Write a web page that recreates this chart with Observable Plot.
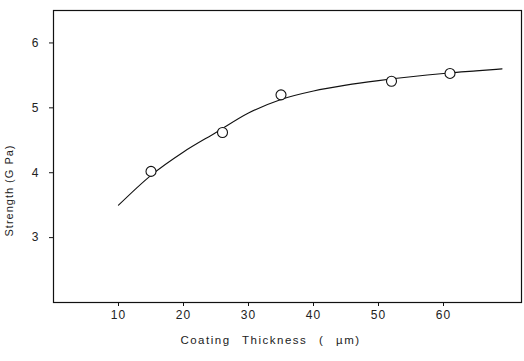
<!DOCTYPE html>
<html>
<head>
<meta charset="utf-8">
<script src="https://cdn.jsdelivr.net/npm/d3@7"></script>
<script src="https://cdn.jsdelivr.net/npm/@observablehq/plot@0.6"></script>
<style>
  html, body { margin: 0; padding: 0; background: #fff; }
  svg { display: block; }
  .strength-chart text { letter-spacing: 1px; }
  .strength-chart .x-title text { letter-spacing: 1.5px; word-spacing: 7px; }
</style>
</head>
<body>
<div id="chart"></div>
<script>
// Measured strength at each coating thickness (µm, GPa)
const thickness = [15, 26, 35, 52, 61];
const strength = [4.02, 4.62, 5.2, 5.41, 5.53];

// Fitted trend curve through the measurements
const curveX = [10, 15, 20, 25, 30, 35, 40, 45, 50, 55, 60, 65, 69];
const curveY = [3.5, 3.96, 4.32, 4.62, 4.92, 5.13, 5.26, 5.35, 5.42, 5.48, 5.53, 5.57, 5.6];

const xTicks = [10, 20, 30, 40, 50, 60];
const yTicks = [3, 4, 5, 6];

const points = thickness.map((t, i) => ({t, s: strength[i]}));
const curve = curveX.map((t, i) => ({t, s: curveY[i]}));

const font = "Liberation Sans, DejaVu Sans, sans-serif";

const chart = Plot.plot({
  width: 524,
  height: 361,
  marginLeft: 53,
  marginRight: 3,
  marginTop: 10,
  marginBottom: 59,
  className: "strength-chart",
  style: {fontFamily: font, fontSize: "12px", color: "#222", background: "#fff"},
  x: {domain: [0, 72]},
  y: {domain: [2, 6.5]},
  marks: [
    Plot.frame({stroke: "#111", strokeWidth: 1.2}),
    Plot.axisX({ticks: xTicks, tickSize: 4, tickPadding: 4, tickFormat: "d", label: null, stroke: "#111", fill: "#222"}),
    Plot.axisY({ticks: yTicks, tickSize: 4, tickPadding: 10, tickFormat: "d", label: null, stroke: "#111", fill: "#222"}),
    Plot.line(curve, {x: "t", y: "s", stroke: "#111", strokeWidth: 1.1, curve: "monotone-x"}),
    Plot.dot(points, {x: "t", y: "s", r: 5, stroke: "#111", strokeWidth: 1.1, fill: "#fff"}),
    Plot.text(["Strength (G Pa)"], {frameAnchor: "bottom-left", textAnchor: "middle", dx: -41, dy: -112, rotate: -90, fontSize: 11, fill: "#222"}),
    Plot.text(["Coating Thickness ( µm)"], {frameAnchor: "bottom", dx: -17, dy: 41, fontSize: 11.5, fill: "#222", className: "x-title"})
  ]
});

document.getElementById("chart").appendChild(chart);
</script>
</body>
</html>
